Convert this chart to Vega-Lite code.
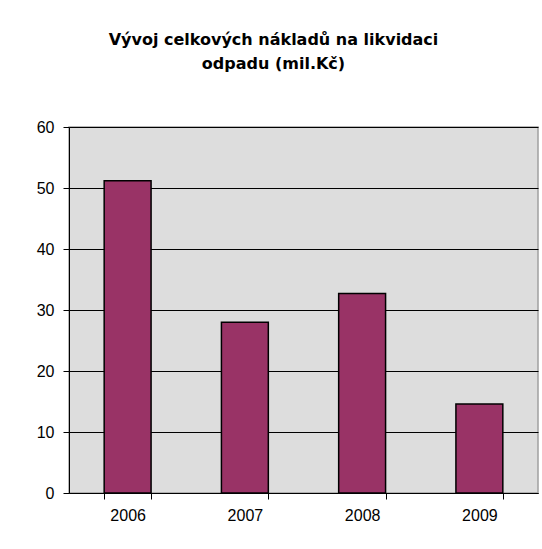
{
  "$schema": "https://vega.github.io/schema/vega-lite/v6.json",
  "autosize": {"type": "none"},
  "padding": {"left": 69, "top": 127, "right": 4, "bottom": 57},
  "width": 469,
  "height": 366,
  "background": "white",
  "title": {
    "text": ["Vývoj celkových nákladů na likvidaci", "odpadu (mil.Kč)"],
    "font": "DejaVu Sans",
    "fontSize": 16,
    "fontWeight": "bold",
    "color": "black",
    "lineHeight": 24,
    "anchor": "middle",
    "dx": -30,
    "offset": 47
  },
  "data": {
    "values": [
      {"rok": "2006", "naklady": 51.2},
      {"rok": "2007", "naklady": 28.0},
      {"rok": "2008", "naklady": 32.7},
      {"rok": "2009", "naklady": 14.6}
    ]
  },
  "mark": {"type": "bar", "color": "#993366", "stroke": "black", "strokeWidth": 1.5},
  "encoding": {
    "x": {
      "field": "rok",
      "type": "nominal",
      "sort": null,
      "scale": {"paddingInner": 0.6, "paddingOuter": 0.3},
      "axis": {
        "title": null,
        "labelAngle": 0,
        "tickBand": "extent",
        "tickSize": 6,
        "tickColor": "black",
        "domainColor": "black",
        "labelFont": "Liberation Sans",
        "labelFontSize": 16,
        "labelColor": "black",
        "labelPadding": 8,
        "grid": false
      }
    },
    "y": {
      "field": "naklady",
      "type": "quantitative",
      "scale": {"domain": [0, 60], "nice": false},
      "axis": {
        "title": null,
        "values": [0, 10, 20, 30, 40, 50, 60],
        "tickSize": 6,
        "tickColor": "black",
        "domainColor": "black",
        "gridColor": "black",
        "gridOpacity": 1,
        "labelFont": "Liberation Sans",
        "labelFontSize": 16,
        "labelColor": "black",
        "labelPadding": 9
      }
    }
  },
  "config": {
    "view": {"fill": "#DDDDDD", "stroke": "#A0A0A0", "strokeWidth": 1.5}
  }
}
